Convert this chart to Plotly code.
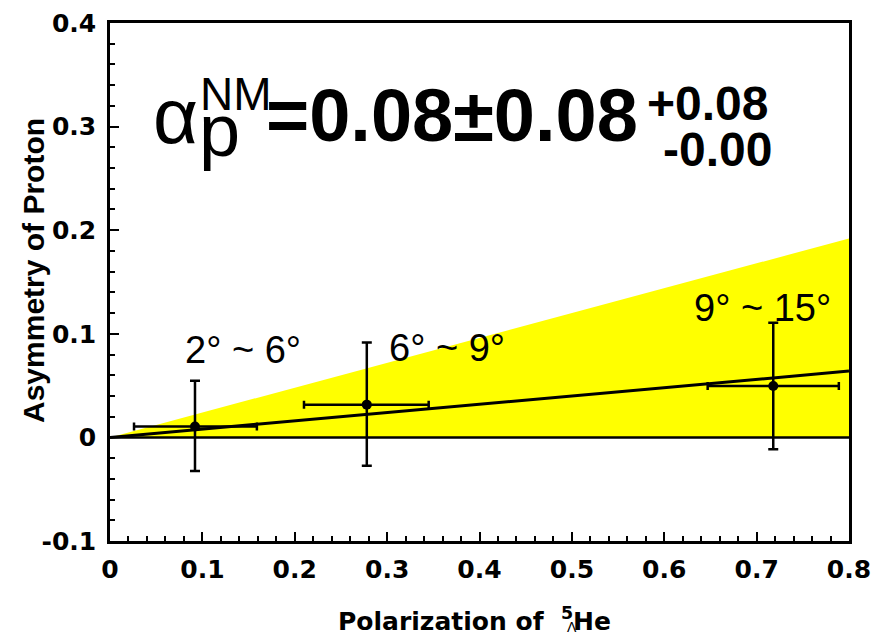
import plotly.graph_objects as go

# Measured points: polarization of the hypernucleus vs. proton asymmetry
angle_bins = ["2° ~ 6°", "6° ~ 9°", "9° ~ 15°"]
polarization = [0.092, 0.278, 0.718]
pol_err_minus = [0.066, 0.068, 0.071]
pol_err_plus = [0.067, 0.067, 0.071]
asymmetry = [0.0106, 0.0316, 0.0496]
asym_err_minus = [0.043, 0.059, 0.061]
asym_err_plus = [0.044, 0.060, 0.061]

# Fitted decay-asymmetry parameter with stat / sys errors
alpha_fit = 0.08
alpha_stat = 0.08
alpha_sys_plus = 0.08
alpha_sys_minus = 0.00

x_range = [0.0, 0.8]
y_range = [-0.1, 0.4]
x_tickvals = [0.0, 0.1, 0.2, 0.3, 0.4, 0.5, 0.6, 0.7, 0.8]
x_ticktext = ["0", "0.1", "0.2", "0.3", "0.4", "0.5", "0.6", "0.7", "0.8"]
y_tickvals = [-0.1, 0.0, 0.1, 0.2, 0.3, 0.4]
y_ticktext = ["-0.1", "0", "0.1", "0.2", "0.3", "0.4"]

# label placement (data units) for the angular bins
bin_label_x = [0.144, 0.365, 0.706]
bin_label_y = [0.084, 0.086, 0.125]

W, H = 885, 637
ML, MR, MT, MB = 110, 36, 23, 96
PW, PH = W - ML - MR, H - MT - MB


def px(x):
    return (x - ML) / PW


def py(y):
    return (H - MB - y) / PH


slope_hi = alpha_fit + alpha_stat + alpha_sys_plus
slope_lo = alpha_fit - alpha_stat - alpha_sys_minus
x0, x1 = x_range

fig = go.Figure()

# allowed band of the fit
fig.add_trace(go.Scatter(
    x=[x0, x1, x1, x0, x0],
    y=[slope_lo * x0, slope_lo * x1, slope_hi * x1, slope_hi * x0, slope_lo * x0],
    fill="toself", fillcolor="#ffff00", line=dict(width=0),
    mode="lines", hoverinfo="skip", showlegend=False))

# zero line
fig.add_trace(go.Scatter(
    x=[x0, x1], y=[0, 0], mode="lines",
    line=dict(color="black", width=2.5), showlegend=False))

# best fit line
fig.add_trace(go.Scatter(
    x=[x0, x1], y=[alpha_fit * x0, alpha_fit * x1], mode="lines",
    line=dict(color="black", width=3), showlegend=False))

# data points
fig.add_trace(go.Scatter(
    x=polarization, y=asymmetry, mode="markers",
    marker=dict(color="black", size=10),
    error_x=dict(type="data", symmetric=False, array=pol_err_plus,
                 arrayminus=pol_err_minus, color="black", thickness=2.5, width=4),
    error_y=dict(type="data", symmetric=False, array=asym_err_plus,
                 arrayminus=asym_err_minus, color="black", thickness=2.5, width=5),
    showlegend=False))

tick_font = dict(family="DejaVu Sans", size=25, color="black", weight="bold")
axis_common = dict(
    showgrid=False, zeroline=False, showline=True, linecolor="black",
    linewidth=2.5, mirror=True, ticks="inside", ticklen=9, tickwidth=2,
    tickcolor="black", tickfont=tick_font, automargin=False,
    tickmode="array",
    minor=dict(ticks="inside", ticklen=5, tickwidth=2, tickcolor="black",
               tickmode="linear", tick0=0, dtick=0.02),
)

fig.update_xaxes(range=x_range, tickvals=x_tickvals, ticktext=x_ticktext,
                 ticklabelstandoff=4, **axis_common)
fig.update_yaxes(range=y_range, tickvals=y_tickvals, ticktext=y_ticktext,
                 ticklabelstandoff=6, **axis_common)

annotations = []

for lbl, lx, ly in zip(angle_bins, bin_label_x, bin_label_y):
    annotations.append(dict(
        x=lx, y=ly, xref="x", yref="y", text=lbl, showarrow=False,
        xanchor="center", yanchor="middle",
        font=dict(family="Liberation Sans", size=38, color="black")))

big = f"={alpha_fit:.2f}±{alpha_stat:.2f}"
formula = [
    ("α", 151, 116, 78, "normal"),
    ("p", 197, 130, 74, "normal"),
    ("NM", 198, 94, 46, "normal"),
    (big, 264, 116, 74, "bold"),
    (f"+{alpha_sys_plus:.2f}", 645, 103, 48, "bold"),
    (f"-{alpha_sys_minus:.2f}", 661, 150, 48, "bold"),
]
for txt, lx, cy, fs, wt in formula:
    annotations.append(dict(
        x=px(lx), y=py(cy), xref="paper", yref="paper", text=txt,
        showarrow=False, xanchor="left", yanchor="middle",
        font=dict(family="Liberation Sans", size=fs, color="black", weight=wt)))

# axis titles
annotations.append(dict(
    x=px(33), y=py(271), xref="paper", yref="paper",
    text="Asymmetry of Proton", textangle=-90, showarrow=False,
    xanchor="center", yanchor="middle",
    font=dict(family="Liberation Sans", size=30, color="black", weight="bold")))
annotations.append(dict(
    x=px(474), y=py(619), xref="paper", yref="paper",
    text="Polarization of  <sup>5</sup>He", showarrow=False,
    xanchor="center", yanchor="middle",
    font=dict(family="DejaVu Sans", size=25, color="black", weight="bold")))
annotations.append(dict(
    x=px(572), y=py(627), xref="paper", yref="paper",
    text="Λ", showarrow=False, xanchor="center", yanchor="middle",
    font=dict(family="Liberation Sans", size=14, color="black")))

fig.update_layout(
    width=W, height=H,
    margin=dict(l=ML, r=MR, t=MT, b=MB, pad=0),
    paper_bgcolor="white", plot_bgcolor="white",
    annotations=annotations,
    showlegend=False,
)

fig.write_html("out.html")
